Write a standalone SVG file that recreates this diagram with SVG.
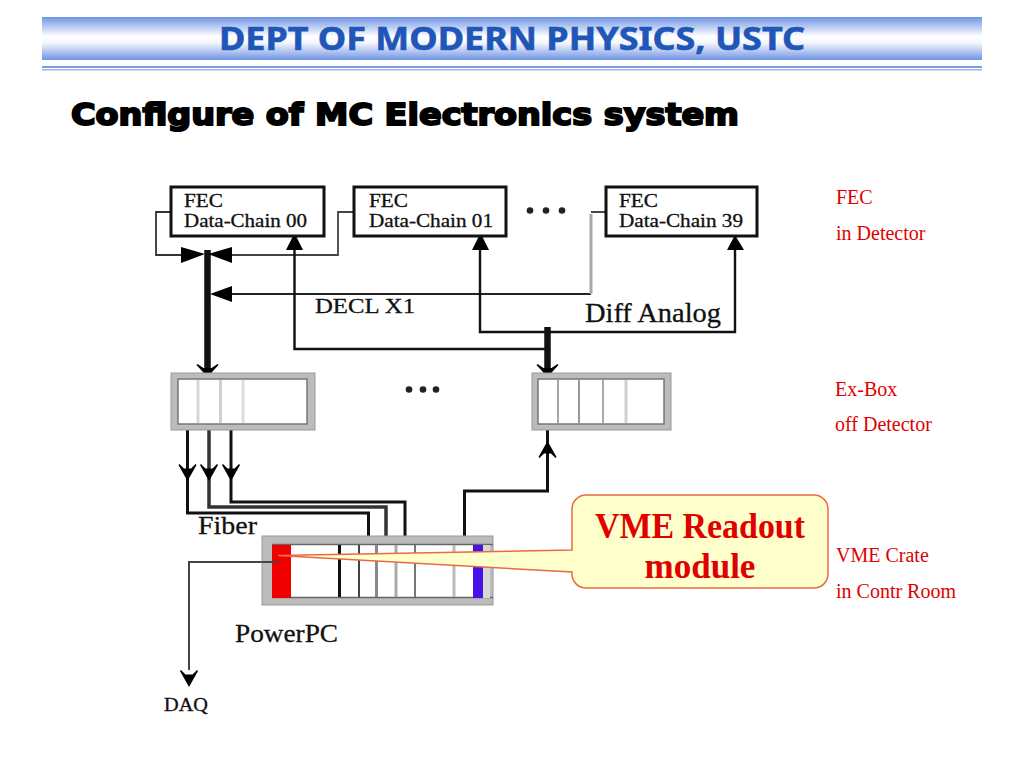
<svg xmlns="http://www.w3.org/2000/svg" width="1024" height="768" viewBox="0 0 1024 768">
<style>
.bmp{font-family:"Liberation Serif",serif;fill:#111;stroke:#111;stroke-width:.3}
.fe{font-size:18px}
.side{font-family:"Liberation Serif",serif;font-size:20px;fill:#e00000}
.fec{fill:#fff;stroke:#111;stroke-width:3}
.frame{fill:#bcbcbc;stroke:#999;stroke-width:1}
.inner{fill:#fff;stroke:#777;stroke-width:1.5}
.w{fill:none;stroke:#111;stroke-linejoin:miter}
.h{fill:#000}
</style>
<defs>
<linearGradient id="hdr" x1="0" y1="0" x2="0" y2="1">
<stop offset="0" stop-color="#6f94e4"/><stop offset=".45" stop-color="#ffffff"/><stop offset=".6" stop-color="#f4f7fd"/><stop offset="1" stop-color="#6f94e4"/>
</linearGradient>
<path id="barb" d="M0 1L-9 -15L-8 -16L-3.500 -11.500H3.500L8 -16L9 -15Z"/>
<path id="barb-lg" d="M0 2L-11 -10L-10 -11L-4 -7H4L10 -11L11 -10Z"/>
</defs>
<g id="header">
<rect x="42" y="17" width="940" height="43" fill="url(#hdr)"/>
<rect x="42" y="66" width="940" height="2" fill="#7d9fe8"/>
<rect x="42" y="69" width="940" height="1.500" fill="#9db8ee"/>
<text x="512" y="50" text-anchor="middle" font-family="'Noto Sans',sans-serif" font-weight="700" font-size="32" fill="#1f56b8" stroke="#1f56b8" stroke-width=".6" textLength="586" lengthAdjust="spacingAndGlyphs">DEPT OF MODERN PHYSICS, USTC</text>
</g>
<text id="title" x="71" y="124.500" font-family="'DejaVu Sans',sans-serif" font-weight="700" font-size="31" fill="#000" stroke="#000" stroke-width="2" textLength="668" lengthAdjust="spacingAndGlyphs">Configure of MC Electronics system</text>

<g id="connectors">
<g class="w">
<path d="M170 212H156V255H182" stroke-width="1.800" stroke="#333"/>
<path d="M353 212H338V255H230" stroke-width="1.800" stroke="#444"/>
<path d="M232 294H591" stroke-width="2" stroke="#222"/>
<path d="M591 294V214" stroke-width="3" stroke="#a8a8a8"/>
<path d="M591 212H606" stroke-width="1.800" stroke="#333"/>
<path d="M207.500 250V372" stroke-width="6.500" stroke="#111"/>
<path d="M294.500 248V349H547" stroke-width="2.400"/>
<path d="M480 248V332H735V248" stroke-width="2.400"/>
<path d="M547.500 327V372" stroke-width="6.500"/>
<path d="M187.500 425V513H368.500V545" stroke-width="3"/>
<path d="M209 425V507H386V545" stroke-width="3.500" stroke="#333"/>
<path d="M231 425V502H405V545" stroke-width="3"/>
<path d="M464.500 545V491H547.500V430" stroke-width="3"/>
<path d="M279 562H189V670" stroke-width="2" stroke="#444"/>
</g>
<path class="h" d="M181 247L205 254L181 263Z"/>
<path class="h" d="M232 247L208 254L232 263Z"/>
<path class="h" d="M232 286L210 294L232 302Z"/>
<path class="h" d="M294.500 233L303 250H286Z"/>
<path class="h" d="M480.500 233L489 250H472Z"/>
<path class="h" d="M735 235L744 250H727Z"/>
<use href="#barb-lg" x="207.500" y="375" class="h"/>
<use href="#barb-lg" x="547.500" y="375" class="h"/>
<use href="#barb" x="187.500" y="480" class="h"/>
<use href="#barb" x="209" y="480" class="h"/>
<use href="#barb" x="231" y="480" class="h"/>
<use href="#barb" x="189" y="686" class="h"/>
<path class="h" d="M547.500 441L556.500 457L555.500 458L551 453.500H544L539.500 458L538.500 457Z"/>
</g>

<g id="fec00">
<rect class="fec" x="171" y="187" width="153" height="49"/>
<text class="bmp fe" x="184" y="207" textLength="39" lengthAdjust="spacingAndGlyphs">FEC</text>
<text class="bmp fe" x="184" y="227" textLength="123" lengthAdjust="spacingAndGlyphs">Data-Chain 00</text>
</g>
<g id="fec01">
<rect class="fec" x="354" y="187" width="152" height="49"/>
<text class="bmp fe" x="369" y="207" textLength="39" lengthAdjust="spacingAndGlyphs">FEC</text>
<text class="bmp fe" x="369" y="227" textLength="124" lengthAdjust="spacingAndGlyphs">Data-Chain 01</text>
</g>
<g id="fec39">
<rect class="fec" x="606" y="187" width="151" height="49"/>
<text class="bmp fe" x="619" y="207" textLength="39" lengthAdjust="spacingAndGlyphs">FEC</text>
<text class="bmp fe" x="619" y="227" textLength="124" lengthAdjust="spacingAndGlyphs">Data-Chain 39</text>
</g>
<g id="dots-top" fill="#222"><circle cx="530" cy="210.500" r="3.300"/><circle cx="546" cy="210.500" r="3.300"/><circle cx="562" cy="210.500" r="3.300"/></g>

<g id="exbox1">
<rect class="frame" x="171" y="373" width="144" height="57"/>
<rect class="inner" x="178" y="379" width="129" height="45"/>
<g stroke-width="3"><path d="M198 380V423" stroke="#d6d6d6"/><path d="M220.500 380V423" stroke="#cfcfcf"/><path d="M243 380V423" stroke="#dcdcdc"/></g>
</g>
<g id="dots-mid" fill="#222"><circle cx="409" cy="389.500" r="3.300"/><circle cx="423" cy="389.500" r="3.300"/><circle cx="436" cy="389.500" r="3.300"/></g>
<g id="exbox2">
<rect class="frame" x="532" y="373" width="139" height="57"/>
<rect class="inner" x="538" y="379" width="126" height="45"/>
<g stroke-width="2"><path d="M558 380V423" stroke="#a8a8a8"/><path d="M579 380V423" stroke="#999"/><path d="M603 380V423" stroke="#aaa"/><path d="M626 380V423" stroke-width="3" stroke="#d0d0d0"/></g>
</g>

<g id="crate">
<rect class="frame" x="262" y="536" width="231" height="69"/>
<rect x="272" y="544" width="218" height="54" fill="#fff"/>
<path d="M272 544.500H493M272 597.500H493" stroke="#666" stroke-width="1.500"/>
<rect x="272" y="545" width="19" height="53" fill="#f00000"/>
<rect x="473" y="545" width="10" height="53" fill="#4a10e8"/>
<rect x="483" y="545" width="7" height="53" fill="#d8d8d8"/>
<path d="M339.500 545V597" stroke="#111" stroke-width="3"/>
<path d="M359 545V597" stroke="#444" stroke-width="2"/>
<path d="M376.500 545V597" stroke="#888" stroke-width="3"/>
<path d="M396 545V597" stroke="#aaa" stroke-width="3"/>
<path d="M415 545V597" stroke="#777" stroke-width="2"/>
<path d="M454 545V597" stroke="#bbb" stroke-width="3"/>
<path d="M279 562H262" stroke="#444" stroke-width="2"/>
</g>

<g id="labels">
<text class="bmp" x="315" y="313" font-size="21" textLength="100" lengthAdjust="spacingAndGlyphs">DECL X1</text>
<text class="bmp" x="585" y="322" font-size="27" textLength="136" lengthAdjust="spacingAndGlyphs">Diff Analog</text>
<text class="bmp" x="198" y="534" font-size="26" textLength="59" lengthAdjust="spacingAndGlyphs">Fiber</text>
<text class="bmp" x="235" y="642" font-size="26" textLength="103" lengthAdjust="spacingAndGlyphs">PowerPC</text>
<text class="bmp" x="164" y="711" font-size="19" textLength="44" lengthAdjust="spacingAndGlyphs">DAQ</text>
</g>

<g id="callout">
<path d="M586 495H814A14 14 0 0 1 828 509V574A14 14 0 0 1 814 588H586A14 14 0 0 1 572 574V572L278 555.500L572 550V509A14 14 0 0 1 586 495Z" fill="#ffffcc" stroke="#e86a45" stroke-width="1.500"/>
<text x="700" y="538" text-anchor="middle" font-family="'Liberation Serif',serif" font-weight="700" font-size="35" fill="#e00000" textLength="210" lengthAdjust="spacingAndGlyphs">VME Readout</text>
<text x="700" y="578" text-anchor="middle" font-family="'Liberation Serif',serif" font-weight="700" font-size="35" fill="#e00000">module</text>
</g>

<g id="side-labels">
<text class="side" x="836" y="204">FEC</text>
<text class="side" x="836" y="240">in Detector</text>
<text class="side" x="835" y="396">Ex-Box</text>
<text class="side" x="835" y="431">off Detector</text>
<text class="side" x="836" y="562">VME Crate</text>
<text class="side" x="836" y="598">in Contr Room</text>
</g>
</svg>
